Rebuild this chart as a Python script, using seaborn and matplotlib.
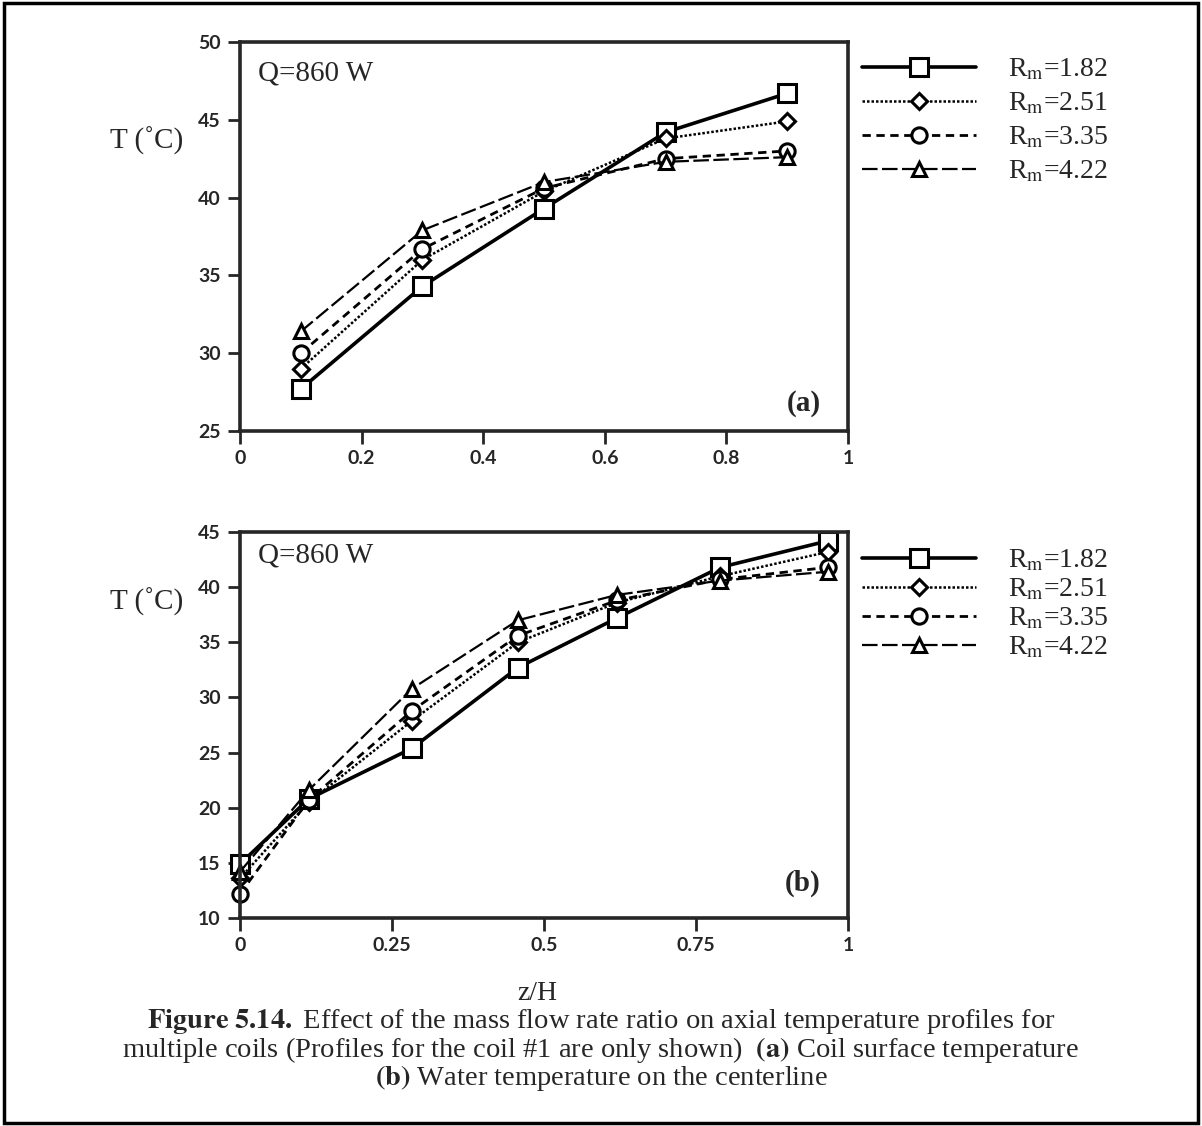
import matplotlib
matplotlib.use("Agg")
import matplotlib.pyplot as plt
import seaborn as sns
from matplotlib.patches import Rectangle

# Dados (Rm = razao de vazao massica)
z_a = [0.1, 0.3, 0.5, 0.7, 0.9]
T_a_182 = [27.7, 34.3, 39.3, 44.2, 46.7]
T_a_251 = [29.0, 36.0, 40.4, 43.8, 44.9]
T_a_335 = [30.0, 36.7, 40.6, 42.5, 43.0]
T_a_422 = [31.4, 37.9, 41.0, 42.3, 42.6]

z_b = [0.0, 0.113, 0.283, 0.457, 0.62, 0.79, 0.967]
T_b_182 = [14.9, 20.8, 25.4, 32.7, 37.2, 41.8, 44.2]
T_b_251 = [13.6, 20.5, 27.9, 35.0, 38.6, 41.0, 43.2]
T_b_335 = [12.2, 20.7, 28.8, 35.6, 38.8, 40.7, 41.8]
T_b_422 = [14.2, 21.6, 30.8, 37.0, 39.3, 40.6, 41.4]

rotulos = ["1.82", "2.51", "3.35", "4.22"]
xticks_a = [0, 0.2, 0.4, 0.6, 0.8, 1]
xticks_b = [0, 0.25, 0.5, 0.75, 1]

sns.set_style("ticks")
plt.rcParams['font.family'] = ['Liberation Serif', 'DejaVu Serif']
plt.rcParams['mathtext.fontset'] = 'stix'

estilos = [
    dict(marker='s', linestyle='-', linewidth=2.6, markersize=13),
    dict(marker='D', linestyle=(0, (1, 0.8)), linewidth=1.8, markersize=8),
    dict(marker='o', linestyle=(0, (3, 2)), linewidth=2.0, markersize=11),
    dict(marker='^', linestyle=(0, (7, 2)), linewidth=1.6, markersize=10),
]


def desenhar(ax, z, series, yticks, xticks, letra, ylab_y, q_y, letra_y,
             leg_y, leg_esp):
    for T, rot, est in zip(series, rotulos, estilos):
        sns.lineplot(x=z, y=T, ax=ax, color='black', markerfacecolor='white',
                     markeredgecolor='black', markeredgewidth=2.2, clip_on=False,
                     label=r'R$_\mathrm{m}$=' + rot, **est)
    ax.set_xlim(0, 1)
    ax.set_ylim(yticks[0], yticks[-1])
    ax.set_yticks(yticks)
    ax.set_xticks(xticks)
    ax.set_xticklabels([f'{t:g}' for t in xticks])
    for lab in ax.get_xticklabels() + ax.get_yticklabels():
        lab.set_family('Lato')
        lab.set_fontweight('bold')
        lab.set_fontsize(14)
    ax.tick_params(direction='out', length=9, width=2, pad=5)
    for s in ax.spines.values():
        s.set_linewidth(2.6)
        s.set_visible(True)
    ax.set_xlabel('')
    ax.set_ylabel('')
    ax.text(-0.093, ylab_y, 'T (˚C)', transform=ax.transAxes,
            ha='right', va='center', fontsize=21)
    ax.text(0.03, q_y, 'Q=860 W', transform=ax.transAxes,
            ha='left', va='center', fontsize=21)
    ax.text(0.955, letra_y, letra, transform=ax.transAxes,
            ha='right', va='center', fontsize=21, fontweight='bold')
    ax.legend(loc='upper left', bbox_to_anchor=(1.005, leg_y), frameon=False,
              fontsize=20, handlelength=4.1, handletextpad=1.15,
              labelspacing=leg_esp, borderaxespad=0)


fig = plt.figure(figsize=(12.02, 11.26), dpi=100)
ax1 = fig.add_axes([0.1997, 0.6172, 0.5058, 0.3455])
ax2 = fig.add_axes([0.1997, 0.1847, 0.5058, 0.3428])

desenhar(ax1, z_a, [T_a_182, T_a_251, T_a_335, T_a_422],
         [25, 30, 35, 40, 45, 50], xticks_a, '(a)', 0.745, 0.92, 0.07,
         0.99, 0.30)
desenhar(ax2, z_b, [T_b_182, T_b_251, T_b_335, T_b_422],
         [10, 15, 20, 25, 30, 35, 40, 45], xticks_b, '(b)', 0.82, 0.94, 0.09,
         0.987, 0.12)

fig.text(537 / 1202, 1 - 993 / 1126, 'z/H', ha='center', va='center', fontsize=20)

fig.text(0.5, 1 - 1022 / 1126,
         r'$\mathbf{Figure\ 5.14.}$ Effect of the mass flow rate ratio on axial temperature profiles for',
         ha='center', va='center', fontsize=20.5)
fig.text(0.5, 1 - 1050 / 1126,
         r'multiple coils (Profiles for the coil #1 are only shown)  $\mathbf{(a)}$ Coil surface temperature',
         ha='center', va='center', fontsize=20.5)
fig.text(0.5, 1 - 1078 / 1126,
         r'$\mathbf{(b)}$ Water temperature on the centerline',
         ha='center', va='center', fontsize=20.5)

fig.patches.append(Rectangle((0.003, 0.003), 0.994, 0.994, transform=fig.transFigure,
                             fill=False, edgecolor='black', linewidth=2.5))

plt.savefig('out.png', dpi=100)
plt.close()
